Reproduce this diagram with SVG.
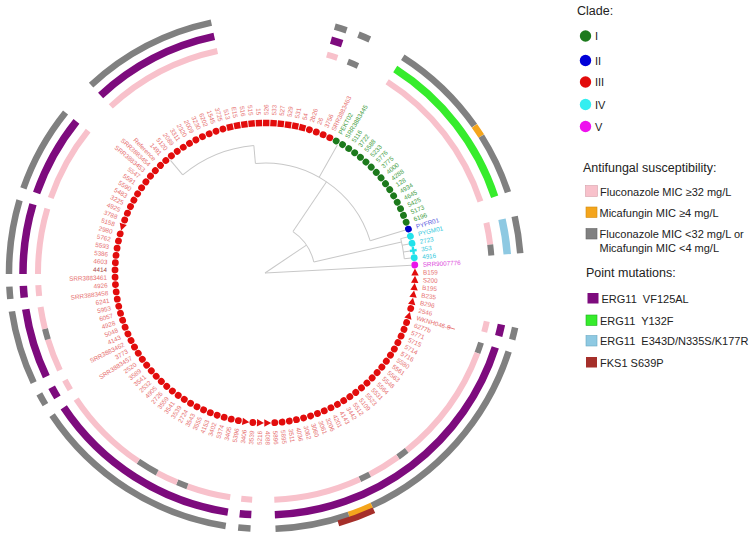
<svg xmlns="http://www.w3.org/2000/svg" xmlns:xlink="http://www.w3.org/1999/xlink" width="750" height="537" viewBox="0 0 750 537">
<style>
.tl line,.tl circle{stroke:#c8c8c8;stroke-width:1;fill:none}
.rg circle{fill:none}
.r1{stroke-width:6}
.r2{stroke-width:7.5}
.r3{stroke-width:6.5}
.pk{stroke:#f8c1cb}.gy{stroke:#808080}.pu{stroke:#7d0b7d}.gn{stroke:#36ec2c}.lb{stroke:#8ec9e2}.or{stroke:#f4a51c}.br{stroke:#a52f2a}
.tips text{font-family:"Liberation Sans",Arial,sans-serif;font-size:6.3px}
.L text{text-anchor:end}
.c1 use{fill:#1c7a1c}.c1 text{fill:#3e9b3e}
.c2 use{fill:#0000c8}.c2 text{fill:#5858de}
.c3 use{fill:#e20c0c}.c3 text{fill:#e66e6e}
.c4 use{fill:#22e2ea}.c4 text{fill:#30c8dc}
.c5 use{fill:#ea14ea}.c5 text{fill:#dc48dc}
.lg text{font-family:"Liberation Sans",Arial,sans-serif;font-size:11px;fill:#222}
.lg .h{font-size:12.5px}
</style>
<defs>
<circle id="dR" cx="415" cy="273" r="3.4"/>
<circle id="dL" cx="115" cy="273" r="3.4"/>
<path id="tR" d="M415,269.2 L411.3,276.2 L418.7,276.2Z"/>
<path id="tL" d="M115,276.8 L111.3,269.8 L118.7,269.8Z"/>
<rect id="sR" x="411.8" y="269.8" width="6.4" height="6.4"/>
<rect id="sL" x="111.8" y="269.8" width="6.4" height="6.4"/>
<path id="pR" d="M411.6,271.8h2.2v-2.3h2.4v2.3h2.2v2.4h-2.2v2.3h-2.4v-2.3h-2.2z"/>
</defs>
<g id="tree" class="tl">
<line x1="265" y1="273" x2="412" y2="273" transform="rotate(-3.05 265 273)"/>
<line x1="265" y1="273" x2="315" y2="273" transform="rotate(-34 265 273)"/>
<circle cx="265" cy="273" r="50" pathLength="360" stroke-dasharray="43.2 400" transform="rotate(-56 265 273)"/>
<line x1="315" y1="273" x2="405" y2="273" transform="rotate(-12.8 265 273)"/>
<circle cx="265" cy="273" r="140" pathLength="360" stroke-dasharray="8.37 400" transform="rotate(-14.21 265 273)"/>
<line x1="405" y1="273" x2="412" y2="273" transform="rotate(-14.21 265 273)"/>
<line x1="405" y1="273" x2="412" y2="273" transform="rotate(-11.42 265 273)"/>
<line x1="405" y1="273" x2="412" y2="273" transform="rotate(-8.63 265 273)"/>
<line x1="405" y1="273" x2="412" y2="273" transform="rotate(-5.84 265 273)"/>
<line x1="315" y1="273" x2="375" y2="273" transform="rotate(-56 265 273)"/>
<circle cx="265" cy="273" r="110" pathLength="360" stroke-dasharray="77.99 400" transform="rotate(-95 265 273)"/>
<line x1="375" y1="273" x2="412" y2="273" transform="rotate(-17.01 265 273)"/>
<line x1="375" y1="273" x2="412" y2="273" transform="rotate(-60.5 265 273)"/>
<line x1="375" y1="273" x2="393" y2="273" transform="rotate(-95 265 273)"/>
<circle cx="265" cy="273" r="128" pathLength="360" stroke-dasharray="35 400" transform="rotate(-130 265 273)"/>
<line x1="393" y1="273" x2="412" y2="273" transform="rotate(-130 265 273)"/>
</g>
<g id="rings" class="rg">
<circle class="r1 pk" cx="265" cy="273" r="227" pathLength="360" stroke-dasharray="2.79 400" transform="rotate(12.30 265 273)"/>
<circle class="r1 gy" cx="265" cy="273" r="227" pathLength="360" stroke-dasharray="2.79 400" transform="rotate(17.88 265 273)"/>
<circle class="r1 pk" cx="265" cy="273" r="227" pathLength="360" stroke-dasharray="30.70 400" transform="rotate(20.67 265 273)"/>
<circle class="r1 gy" cx="265" cy="273" r="227" pathLength="360" stroke-dasharray="2.79 400" transform="rotate(51.37 265 273)"/>
<circle class="r1 pk" cx="265" cy="273" r="227" pathLength="360" stroke-dasharray="8.37 400" transform="rotate(54.17 265 273)"/>
<circle class="r1 gy" cx="265" cy="273" r="227" pathLength="360" stroke-dasharray="2.79 400" transform="rotate(62.54 265 273)"/>
<circle class="r1 pk" cx="265" cy="273" r="227" pathLength="360" stroke-dasharray="22.33 400" transform="rotate(65.33 265 273)"/>
<circle class="r1 pk" cx="265" cy="273" r="227" pathLength="360" stroke-dasharray="2.79 400" transform="rotate(93.24 265 273)"/>
<circle class="r1 pk" cx="265" cy="273" r="227" pathLength="360" stroke-dasharray="11.16 400" transform="rotate(98.82 265 273)"/>
<circle class="r1 gy" cx="265" cy="273" r="227" pathLength="360" stroke-dasharray="2.79 400" transform="rotate(109.99 265 273)"/>
<circle class="r1 pk" cx="265" cy="273" r="227" pathLength="360" stroke-dasharray="5.58 400" transform="rotate(112.78 265 273)"/>
<circle class="r1 gy" cx="265" cy="273" r="227" pathLength="360" stroke-dasharray="5.58 400" transform="rotate(118.36 265 273)"/>
<circle class="r1 pk" cx="265" cy="273" r="227" pathLength="360" stroke-dasharray="22.33 400" transform="rotate(123.94 265 273)"/>
<circle class="r1 pk" cx="265" cy="273" r="227" pathLength="360" stroke-dasharray="2.79 400" transform="rotate(149.06 265 273)"/>
<circle class="r1 pk" cx="265" cy="273" r="227" pathLength="360" stroke-dasharray="8.37 400" transform="rotate(154.64 265 273)"/>
<circle class="r1 gy" cx="265" cy="273" r="227" pathLength="360" stroke-dasharray="2.79 400" transform="rotate(163.01 265 273)"/>
<circle class="r1 pk" cx="265" cy="273" r="227" pathLength="360" stroke-dasharray="5.58 400" transform="rotate(165.81 265 273)"/>
<circle class="r1 pk" cx="265" cy="273" r="227" pathLength="360" stroke-dasharray="2.79 400" transform="rotate(174.18 265 273)"/>
<circle class="r1 pk" cx="265" cy="273" r="227" pathLength="360" stroke-dasharray="16.75 400" transform="rotate(179.76 265 273)"/>
<circle class="r1 pk" cx="265" cy="273" r="227" pathLength="360" stroke-dasharray="19.54 400" transform="rotate(199.30 265 273)"/>
<circle class="r1 pk" cx="265" cy="273" r="227" pathLength="360" stroke-dasharray="30.70 400" transform="rotate(227.21 265 273)"/>
<circle class="r1 pk" cx="265" cy="273" r="227" pathLength="360" stroke-dasharray="2.79 400" transform="rotate(285.82 265 273)"/>
<circle class="r1 gy" cx="265" cy="273" r="227" pathLength="360" stroke-dasharray="2.79 400" transform="rotate(291.40 265 273)"/>
<circle class="r1 pk" cx="265" cy="273" r="227" pathLength="360" stroke-dasharray="39.07 400" transform="rotate(302.56 265 273)"/>
<circle class="r1 pk" cx="265" cy="273" r="227" pathLength="360" stroke-dasharray="5.58 400" transform="rotate(347.22 265 273)"/>
<circle class="r1 gy" cx="265" cy="273" r="227" pathLength="360" stroke-dasharray="2.79 400" transform="rotate(352.80 265 273)"/>

<circle class="r2 pu" cx="265" cy="273" r="242" pathLength="360" stroke-dasharray="2.79 400" transform="rotate(12.30 265 273)"/>
<circle class="r2 pu" cx="265" cy="273" r="242" pathLength="360" stroke-dasharray="69.78 400" transform="rotate(17.88 265 273)"/>
<circle class="r2 pu" cx="265" cy="273" r="242" pathLength="360" stroke-dasharray="2.79 400" transform="rotate(93.24 265 273)"/>
<circle class="r2 pu" cx="265" cy="273" r="242" pathLength="360" stroke-dasharray="47.45 400" transform="rotate(98.82 265 273)"/>
<circle class="r2 pu" cx="265" cy="273" r="242" pathLength="360" stroke-dasharray="2.79 400" transform="rotate(149.06 265 273)"/>
<circle class="r2 pu" cx="265" cy="273" r="242" pathLength="360" stroke-dasharray="16.75 400" transform="rotate(154.64 265 273)"/>
<circle class="r2 pu" cx="265" cy="273" r="242" pathLength="360" stroke-dasharray="2.79 400" transform="rotate(174.18 265 273)"/>
<circle class="r2 pu" cx="265" cy="273" r="242" pathLength="360" stroke-dasharray="16.75 400" transform="rotate(179.76 265 273)"/>
<circle class="r2 pu" cx="265" cy="273" r="242" pathLength="360" stroke-dasharray="19.54 400" transform="rotate(199.30 265 273)"/>
<circle class="r2 pu" cx="265" cy="273" r="242" pathLength="360" stroke-dasharray="30.70 400" transform="rotate(227.21 265 273)"/>
<circle class="r2 pu" cx="265" cy="273" r="242" pathLength="360" stroke-dasharray="2.79 400" transform="rotate(285.82 265 273)"/>
<circle class="r2 gn" cx="265" cy="273" r="242" pathLength="360" stroke-dasharray="39.07 400" transform="rotate(302.56 265 273)"/>
<circle class="r2 lb" cx="265" cy="273" r="243" stroke-width="9" pathLength="360" stroke-dasharray="8.37 400" transform="rotate(347.22 265 273)"/>

<circle class="r3 gy" cx="265" cy="273" r="256" pathLength="360" stroke-dasharray="2.79 400" transform="rotate(12.30 265 273)"/>
<circle class="r3 gy" cx="265" cy="273" r="256" pathLength="360" stroke-dasharray="47.45 400" transform="rotate(17.88 265 273)"/>
<circle class="r3 or" cx="265" cy="273" r="256" pathLength="360" stroke-dasharray="5.58 400" transform="rotate(65.33 265 273)"/>
<circle class="r3 gy" cx="265" cy="273" r="256" pathLength="360" stroke-dasharray="16.75 400" transform="rotate(70.91 265 273)"/>
<circle class="r3 gy" cx="265" cy="273" r="256" pathLength="360" stroke-dasharray="2.79 400" transform="rotate(93.24 265 273)"/>
<circle class="r3 gy" cx="265" cy="273" r="256" pathLength="360" stroke-dasharray="47.45 400" transform="rotate(98.82 265 273)"/>
<circle class="r3 gy" cx="265" cy="273" r="256" pathLength="360" stroke-dasharray="2.79 400" transform="rotate(149.06 265 273)"/>
<circle class="r3 gy" cx="265" cy="273" r="256" pathLength="360" stroke-dasharray="16.75 400" transform="rotate(154.64 265 273)"/>
<circle class="r3 gy" cx="265" cy="273" r="256" pathLength="360" stroke-dasharray="2.79 400" transform="rotate(174.18 265 273)"/>
<circle class="r3 gy" cx="265" cy="273" r="256" pathLength="360" stroke-dasharray="16.75 400" transform="rotate(179.76 265 273)"/>
<circle class="r3 gy" cx="265" cy="273" r="256" pathLength="360" stroke-dasharray="19.54 400" transform="rotate(199.30 265 273)"/>
<circle class="r3 gy" cx="265" cy="273" r="256" pathLength="360" stroke-dasharray="30.70 400" transform="rotate(227.21 265 273)"/>
<circle class="r3 gy" cx="265" cy="273" r="256" pathLength="360" stroke-dasharray="2.79 400" transform="rotate(285.82 265 273)"/>
<circle class="r3 gy" cx="265" cy="273" r="256" pathLength="360" stroke-dasharray="2.79 400" transform="rotate(291.40 265 273)"/>
<circle class="r3 gy" cx="265" cy="273" r="256" pathLength="360" stroke-dasharray="22.33 400" transform="rotate(302.56 265 273)"/>
<circle class="r3 or" cx="265" cy="273" r="256" pathLength="360" stroke-dasharray="2.79 400" transform="rotate(324.89 265 273)"/>
<circle class="r3 gy" cx="265" cy="273" r="256" pathLength="360" stroke-dasharray="13.96 400" transform="rotate(327.68 265 273)"/>
<circle class="r3 gy" cx="265" cy="273" r="256" pathLength="360" stroke-dasharray="8.37 400" transform="rotate(347.22 265 273)"/>
<circle class="br" cx="265" cy="273" r="261" stroke-width="6" pathLength="360" stroke-dasharray="8.37 400" transform="rotate(65.33 265 273)"/>
</g>
<g id="tips" class="tips">
<g id="n-21" class="c1" transform="rotate(-61.66 265 273)"><use href="#dR"/><text x="423" y="275.2">PEKT02</text></g>
<g id="n-20" class="c1" transform="rotate(-58.87 265 273)"><use href="#dR"/><text x="423" y="275.2">SRR3883445</text></g>
<g id="n-19" class="c1" transform="rotate(-56.08 265 273)"><use href="#dR"/><text x="423" y="275.2">5116</text></g>
<g id="n-18" class="c1" transform="rotate(-53.29 265 273)"><use href="#dR"/><text x="423" y="275.2">3722</text></g>
<g id="n-17" class="c1" transform="rotate(-50.50 265 273)"><use href="#dR"/><text x="423" y="275.2">5588</text></g>
<g id="n-16" class="c1" transform="rotate(-47.71 265 273)"><use href="#dR"/><text x="423" y="275.2">5233</text></g>
<g id="n-15" class="c1" transform="rotate(-44.92 265 273)"><use href="#dR"/><text x="423" y="275.2">5776</text></g>
<g id="n-14" class="c1" transform="rotate(-42.12 265 273)"><use href="#dR"/><text x="423" y="275.2">3775</text></g>
<g id="n-13" class="c1" transform="rotate(-39.33 265 273)"><use href="#dR"/><text x="423" y="275.2">4000</text></g>
<g id="n-12" class="c1" transform="rotate(-36.54 265 273)"><use href="#dR"/><text x="423" y="275.2">4288</text></g>
<g id="n-11" class="c1" transform="rotate(-33.75 265 273)"><use href="#dR"/><text x="423" y="275.2">128</text></g>
<g id="n-10" class="c1" transform="rotate(-30.96 265 273)"><use href="#dR"/><text x="423" y="275.2">4934</text></g>
<g id="n-9" class="c1" transform="rotate(-28.17 265 273)"><use href="#dR"/><text x="423" y="275.2">4645</text></g>
<g id="n-8" class="c1" transform="rotate(-25.38 265 273)"><use href="#dR"/><text x="423" y="275.2">5425</text></g>
<g id="n-7" class="c1" transform="rotate(-22.59 265 273)"><use href="#dR"/><text x="423" y="275.2">5173</text></g>
<g id="n-6" class="c1" transform="rotate(-19.80 265 273)"><use href="#dR"/><text x="423" y="275.2">6196</text></g>
<g id="n-5" class="c2" transform="rotate(-17.01 265 273)"><use href="#dR"/><text x="423" y="275.2">PYFR01</text></g>
<g id="n-4" class="c4" transform="rotate(-14.21 265 273)"><use href="#dR"/><text x="423" y="275.2">PYGM01</text></g>
<g id="n-3" class="c4" transform="rotate(-11.42 265 273)"><use href="#dR"/><text x="423" y="275.2">2723</text></g>
<g id="n-2" class="c4" transform="rotate(-8.63 265 273)"><use href="#pR"/><text x="423" y="275.2">353</text></g>
<g id="n-1" class="c4" transform="rotate(-5.84 265 273)"><use href="#dR"/><text x="423" y="275.2">4916</text></g>
<g id="n0" class="c5" transform="rotate(-3.05 265 273)"><use href="#dR"/><text x="423" y="275.2">SRR9007776</text></g>
<g id="n1" class="c3" transform="rotate(-0.26 265 273)"><use href="#tR"/><text x="423" y="275.2">B159</text></g>
<g id="n2" class="c3" transform="rotate(2.53 265 273)"><use href="#tR"/><text x="423" y="275.2">S200</text></g>
<g id="n3" class="c3" transform="rotate(5.32 265 273)"><use href="#tR"/><text x="423" y="275.2">B195</text></g>
<g id="n4" class="c3" transform="rotate(8.11 265 273)"><use href="#tR"/><text x="423" y="275.2">B235</text></g>
<g id="n5" class="c3" transform="rotate(10.91 265 273)"><use href="#tR"/><text x="423" y="275.2">B296</text></g>
<g id="n6" class="c3" transform="rotate(13.70 265 273)"><use href="#dR"/><text x="423" y="275.2">2546</text></g>
<g id="n7" class="c3" transform="rotate(16.49 265 273)"><use href="#tR"/><text x="423" y="275.2">WKNH046-9</text><line x1="455" y1="273" x2="463" y2="273" stroke="#e66e6e" stroke-width="0.8"/></g>
<g id="n8" class="c3" transform="rotate(19.28 265 273)"><use href="#dR"/><text x="423" y="275.2">6277b</text></g>
<g id="n9" class="c3" transform="rotate(22.07 265 273)"><use href="#dR"/><text x="423" y="275.2">5771</text></g>
<g id="n10" class="c3" transform="rotate(24.86 265 273)"><use href="#dR"/><text x="423" y="275.2">5715</text></g>
<g id="n11" class="c3" transform="rotate(27.65 265 273)"><use href="#dR"/><text x="423" y="275.2">5714</text></g>
<g id="n12" class="c3" transform="rotate(30.44 265 273)"><use href="#dR"/><text x="423" y="275.2">5716</text></g>
<g id="n13" class="c3" transform="rotate(33.23 265 273)"><use href="#dR"/><text x="423" y="275.2">5580</text></g>
<g id="n14" class="c3" transform="rotate(36.02 265 273)"><use href="#dR"/><text x="423" y="275.2">5561</text></g>
<g id="n15" class="c3" transform="rotate(38.82 265 273)"><use href="#dR"/><text x="423" y="275.2">5563</text></g>
<g id="n16" class="c3" transform="rotate(41.61 265 273)"><use href="#dR"/><text x="423" y="275.2">5548</text></g>
<g id="n17" class="c3" transform="rotate(44.40 265 273)"><use href="#dR"/><text x="423" y="275.2">5564</text></g>
<g id="n18" class="c3" transform="rotate(47.19 265 273)"><use href="#dR"/><text x="423" y="275.2">5531</text></g>
<g id="n19" class="c3" transform="rotate(49.98 265 273)"><use href="#dR"/><text x="423" y="275.2">5523</text></g>
<g id="n20" class="c3" transform="rotate(52.77 265 273)"><use href="#dR"/><text x="423" y="275.2">5109</text></g>
<g id="n21" class="c3" transform="rotate(55.56 265 273)"><use href="#dR"/><text x="423" y="275.2">5512</text></g>
<g id="n22" class="c3" transform="rotate(58.35 265 273)"><use href="#dR"/><text x="423" y="275.2">3442</text></g>
<g id="n23" class="c3" transform="rotate(61.14 265 273)"><use href="#dR"/><text x="423" y="275.2">4143</text></g>
<g id="n24" class="c3" transform="rotate(63.93 265 273)"><use href="#dR"/><text x="423" y="275.2">4201</text></g>
<g id="n25" class="c3" transform="rotate(66.73 265 273)"><use href="#dR"/><text x="423" y="275.2">3206</text></g>
<g id="n26" class="c3" transform="rotate(69.52 265 273)"><use href="#dR"/><text x="423" y="275.2">3061</text></g>
<g id="n27" class="c3" transform="rotate(72.31 265 273)"><use href="#dR"/><text x="423" y="275.2">3060</text></g>
<g id="n28" class="c3" transform="rotate(75.10 265 273)"><use href="#dR"/><text x="423" y="275.2">3062</text></g>
<g id="n29" class="c3" transform="rotate(77.89 265 273)"><use href="#dR"/><text x="423" y="275.2">4036</text></g>
<g id="n30" class="c3" transform="rotate(80.68 265 273)"><use href="#dR"/><text x="423" y="275.2">3511</text></g>
<g id="n31" class="c3" transform="rotate(83.47 265 273)"><use href="#dR"/><text x="423" y="275.2">5895</text></g>
<g id="n32" class="c3" transform="rotate(86.26 265 273)"><use href="#dR"/><text x="423" y="275.2">5896</text></g>
<g id="n33" class="c3" transform="rotate(89.05 265 273)"><use href="#tR"/><text x="423" y="275.2">4088</text></g>
<g class="L">
<g id="n34" class="c3" transform="rotate(-88.16 265 273)"><use href="#tL"/><text x="107" y="275.2">5216</text></g>
<g id="n35" class="c3" transform="rotate(-85.36 265 273)"><use href="#dL"/><text x="107" y="275.2">3539</text></g>
<g id="n36" class="c3" transform="rotate(-82.57 265 273)"><use href="#tL"/><text x="107" y="275.2">3406</text></g>
<g id="n37" class="c3" transform="rotate(-79.78 265 273)"><use href="#dL"/><text x="107" y="275.2">5396</text></g>
<g id="n38" class="c3" transform="rotate(-76.99 265 273)"><use href="#dL"/><text x="107" y="275.2">3405</text></g>
<g id="n39" class="c3" transform="rotate(-74.20 265 273)"><use href="#dL"/><text x="107" y="275.2">5374</text></g>
<g id="n40" class="c3" transform="rotate(-71.41 265 273)"><use href="#dL"/><text x="107" y="275.2">3402</text></g>
<g id="n41" class="c3" transform="rotate(-68.62 265 273)"><use href="#dL"/><text x="107" y="275.2">4153</text></g>
<g id="n42" class="c3" transform="rotate(-65.83 265 273)"><use href="#dL"/><text x="107" y="275.2">3555</text></g>
<g id="n43" class="c3" transform="rotate(-63.04 265 273)"><use href="#dL"/><text x="107" y="275.2">3543</text></g>
<g id="n44" class="c3" transform="rotate(-60.25 265 273)"><use href="#dL"/><text x="107" y="275.2">2724</text></g>
<g id="n45" class="c3" transform="rotate(-57.45 265 273)"><use href="#dL"/><text x="107" y="275.2">3539</text></g>
<g id="n46" class="c3" transform="rotate(-54.66 265 273)"><use href="#dL"/><text x="107" y="275.2">3541</text></g>
<g id="n47" class="c3" transform="rotate(-51.87 265 273)"><use href="#dL"/><text x="107" y="275.2">3559</text></g>
<g id="n48" class="c3" transform="rotate(-49.08 265 273)"><use href="#dL"/><text x="107" y="275.2">2726</text></g>
<g id="n49" class="c3" transform="rotate(-46.29 265 273)"><use href="#dL"/><text x="107" y="275.2">4905</text></g>
<g id="n50" class="c3" transform="rotate(-43.50 265 273)"><use href="#dL"/><text x="107" y="275.2">2532</text></g>
<g id="n51" class="c3" transform="rotate(-40.71 265 273)"><use href="#dL"/><text x="107" y="275.2">3541</text></g>
<g id="n52" class="c3" transform="rotate(-37.92 265 273)"><use href="#dL"/><text x="107" y="275.2">3589</text></g>
<g id="n53" class="c3" transform="rotate(-35.13 265 273)"><use href="#dL"/><text x="107" y="275.2">2520</text></g>
<g id="n54" class="c3" transform="rotate(-32.34 265 273)"><use href="#dL"/><text x="107" y="275.2">SRR3883457</text></g>
<g id="n55" class="c3" transform="rotate(-29.54 265 273)"><use href="#dL"/><text x="107" y="275.2">3773</text></g>
<g id="n56" class="c3" transform="rotate(-26.75 265 273)"><use href="#dL"/><text x="107" y="275.2">SRR3883462</text></g>
<g id="n57" class="c3" transform="rotate(-23.96 265 273)"><use href="#dL"/><text x="107" y="275.2">4143</text></g>
<g id="n58" class="c3" transform="rotate(-21.17 265 273)"><use href="#dL"/><text x="107" y="275.2">5048</text></g>
<g id="n59" class="c3" transform="rotate(-18.38 265 273)"><use href="#dL"/><text x="107" y="275.2">4928</text></g>
<g id="n60" class="c3" transform="rotate(-15.59 265 273)"><use href="#dL"/><text x="107" y="275.2">6057</text></g>
<g id="n61" class="c3" transform="rotate(-12.80 265 273)"><use href="#dL"/><text x="107" y="275.2">5953</text></g>
<g id="n62" class="c3" transform="rotate(-10.01 265 273)"><use href="#dL"/><text x="107" y="275.2">6241</text></g>
<g id="n63" class="c3" transform="rotate(-7.22 265 273)"><use href="#dL"/><text x="107" y="275.2">SRR3883458</text></g>
<g id="n64" class="c3" transform="rotate(-4.43 265 273)"><use href="#dL"/><text x="107" y="275.2">4926</text></g>
<g id="n65" class="c3" transform="rotate(-1.63 265 273)"><use href="#dL"/><text x="107" y="275.2">SRR3883461</text></g>
<g id="n66" class="c3" transform="rotate(1.16 265 273)"><use href="#dL"/><text x="107" y="275.2" style="fill:#a03a3a">4414</text></g>
<g id="n67" class="c3" transform="rotate(3.95 265 273)"><use href="#dL"/><text x="107" y="275.2">4603</text></g>
<g id="n68" class="c3" transform="rotate(6.74 265 273)"><use href="#dL"/><text x="107" y="275.2">5386</text></g>
<g id="n69" class="c3" transform="rotate(9.53 265 273)"><use href="#dL"/><text x="107" y="275.2">5593</text></g>
<g id="n70" class="c3" transform="rotate(12.32 265 273)"><use href="#dL"/><text x="107" y="275.2">5762</text></g>
<g id="n71" class="c3" transform="rotate(15.11 265 273)"><use href="#dL"/><text x="107" y="275.2">2980</text></g>
<g id="n72" class="c3" transform="rotate(17.90 265 273)"><use href="#tL"/><text x="107" y="275.2">5158</text></g>
<g id="n73" class="c3" transform="rotate(20.69 265 273)"><use href="#dL"/><text x="107" y="275.2">3788</text></g>
<g id="n74" class="c3" transform="rotate(23.48 265 273)"><use href="#dL"/><text x="107" y="275.2">4925</text></g>
<g id="n75" class="c3" transform="rotate(26.28 265 273)"><use href="#dL"/><text x="107" y="275.2">3225</text></g>
<g id="n76" class="c3" transform="rotate(29.07 265 273)"><use href="#dL"/><text x="107" y="275.2">5483</text></g>
<g id="n77" class="c3" transform="rotate(31.86 265 273)"><use href="#dL"/><text x="107" y="275.2">5590</text></g>
<g id="n78" class="c3" transform="rotate(34.65 265 273)"><use href="#dL"/><text x="107" y="275.2">5591</text></g>
<g id="n79" class="c3" transform="rotate(37.44 265 273)"><use href="#dL"/><text x="107" y="275.2">5547</text></g>
<g id="n80" class="c3" transform="rotate(40.23 265 273)"><use href="#dL"/><text x="107" y="275.2">SRR3883453</text></g>
<g id="n81" class="c3" transform="rotate(43.02 265 273)"><use href="#dL"/><text x="107" y="275.2">SRR3883454</text></g>
<g id="n82" class="c3" transform="rotate(45.81 265 273)"><use href="#dL"/><text x="107" y="275.2">Reference</text></g>
<g id="n83" class="c3" transform="rotate(48.60 265 273)"><use href="#dL"/><text x="107" y="275.2">1491</text></g>
<g id="n84" class="c3" transform="rotate(51.39 265 273)"><use href="#dL"/><text x="107" y="275.2">5120</text></g>
<g id="n85" class="c3" transform="rotate(54.19 265 273)"><use href="#dL"/><text x="107" y="275.2">2089</text></g>
<g id="n86" class="c3" transform="rotate(56.98 265 273)"><use href="#dL"/><text x="107" y="275.2">3311</text></g>
<g id="n87" class="c3" transform="rotate(59.77 265 273)"><use href="#dL"/><text x="107" y="275.2">2320</text></g>
<g id="n88" class="c3" transform="rotate(62.56 265 273)"><use href="#dL"/><text x="107" y="275.2">2009</text></g>
<g id="n89" class="c3" transform="rotate(65.35 265 273)"><use href="#dL"/><text x="107" y="275.2">3230</text></g>
<g id="n90" class="c3" transform="rotate(68.14 265 273)"><use href="#dL"/><text x="107" y="275.2">6202</text></g>
<g id="n91" class="c3" transform="rotate(70.93 265 273)"><use href="#dL"/><text x="107" y="275.2">1545</text></g>
<g id="n92" class="c3" transform="rotate(73.72 265 273)"><use href="#dL"/><text x="107" y="275.2">3725</text></g>
<g id="n93" class="c3" transform="rotate(76.51 265 273)"><use href="#sL"/><text x="107" y="275.2">513</text></g>
<g id="n94" class="c3" transform="rotate(79.30 265 273)"><use href="#sL"/><text x="107" y="275.2">E15</text></g>
<g id="n95" class="c3" transform="rotate(82.10 265 273)"><use href="#sL"/><text x="107" y="275.2">516</text></g>
<g id="n96" class="c3" transform="rotate(84.89 265 273)"><use href="#sL"/><text x="107" y="275.2">515</text></g>
<g id="n97" class="c3" transform="rotate(87.68 265 273)"><use href="#sL"/><text x="107" y="275.2">15</text></g>
</g>
<g id="n98" class="c3" transform="rotate(-89.53 265 273)"><use href="#sR"/><text x="423" y="275.2">526</text></g>
<g id="n99" class="c3" transform="rotate(-86.74 265 273)"><use href="#sR"/><text x="423" y="275.2">533</text></g>
<g id="n100" class="c3" transform="rotate(-83.95 265 273)"><use href="#sR"/><text x="423" y="275.2">527</text></g>
<g id="n101" class="c3" transform="rotate(-81.16 265 273)"><use href="#sR"/><text x="423" y="275.2">529</text></g>
<g id="n102" class="c3" transform="rotate(-78.37 265 273)"><use href="#sR"/><text x="423" y="275.2">531</text></g>
<g id="n103" class="c3" transform="rotate(-75.58 265 273)"><use href="#sR"/><text x="423" y="275.2">54</text></g>
<g id="n104" class="c3" transform="rotate(-72.79 265 273)"><use href="#dR"/><text x="423" y="275.2">2b26</text></g>
<g id="n105" class="c3" transform="rotate(-70.00 265 273)"><use href="#dR"/><text x="423" y="275.2">26</text></g>
<g id="n106" class="c3" transform="rotate(-67.20 265 273)"><use href="#dR"/><text x="423" y="275.2">3756</text></g>
<g id="n107" class="c3" transform="rotate(-64.41 265 273)"><use href="#dR"/><text x="423" y="275.2">SRR3883463</text></g>
</g>
<g id="legend" class="lg">
<text class="h" x="577" y="15">Clade:</text>
<circle cx="585.5" cy="36" r="5.7" fill="#1c7a1c"/><text x="595" y="40">I</text>
<circle cx="585.5" cy="60.5" r="5.7" fill="#0000d8"/><text x="595" y="64.5">II</text>
<circle cx="585.5" cy="82" r="5.7" fill="#e20c0c"/><text x="595" y="86">III</text>
<circle cx="585.5" cy="104.5" r="5.7" fill="#33eef0"/><text x="595" y="108.5">IV</text>
<circle cx="585.5" cy="126.5" r="5.7" fill="#ee11ee"/><text x="595" y="130.5">V</text>
<text class="h" x="583" y="172">Antifungal susceptibility:</text>
<rect x="585.5" y="185.5" width="12" height="11" fill="#f8c1cb" stroke="#d8a0aa" stroke-width="0.6"/>
<text x="600" y="195.5">Fluconazole MIC ≥32 mg/L</text>
<rect x="586" y="207" width="11" height="10.5" fill="#f4a51c" stroke="#d08a10" stroke-width="0.6"/>
<text x="599.5" y="216.5">Micafungin MIC ≥4 mg/L</text>
<rect x="586" y="228.5" width="11" height="10.5" fill="#808080" stroke="#666" stroke-width="0.6"/>
<text x="599.5" y="237.5">Fluconazole MIC &lt;32 mg/L or</text>
<text x="599.5" y="251.5">Micafungin MIC &lt;4 mg/L</text>
<text class="h" x="586" y="276.5">Point mutations:</text>
<rect x="587.5" y="293" width="11" height="10.5" fill="#7d0b7d"/>
<text x="601.5" y="302.5" xml:space="preserve">ERG11  VF125AL</text>
<rect x="586" y="315" width="11" height="10.5" fill="#36ec2c" stroke="#20b020" stroke-width="0.6"/>
<text x="600" y="324.5" xml:space="preserve">ERG11  Y132F</text>
<rect x="586" y="335.5" width="11" height="10.5" fill="#8ec9e2" stroke="#6aa8c4" stroke-width="0.6"/>
<text x="600" y="345" xml:space="preserve">ERG11  E343D/N335S/K177R</text>
<rect x="586" y="357" width="11" height="10.5" fill="#a52f2a"/>
<text x="600" y="366.5">FKS1 S639P</text>
</g>
</svg>
